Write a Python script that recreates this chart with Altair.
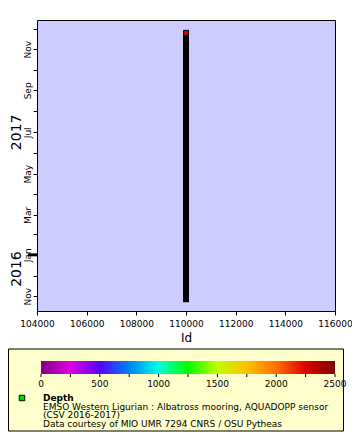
import altair as alt
import pandas as pd

# ---- data ----
bar_ids = [110000]
bar_start = ["2016-10-23"]
bar_end = ["2017-11-28"]
last_ids = [110000]
last_times = ["2017-11-25"]
year_labels = ["2017", "2016"]
year_label_dates = ["2017-07-01", "2016-12-11"]
year_tick_dates = ["2017-01-01"]
x_tick_values = [104000, 105000, 106000, 107000, 108000, 109000, 110000,
                 111000, 112000, 113000, 114000, 115000, 116000]
cb_tick_values = [0, 250, 500, 750, 1000, 1250, 1500, 1750, 2000, 2250, 2500]
cb_label_values = [0, 500, 1000, 1500, 2000, 2500]
cb_stop_offsets = [0.0, 0.1, 0.2, 0.3, 0.4, 0.5, 0.6, 0.7, 0.8, 0.9, 1.0]
cb_stop_colors = ["#800080", "#e000e0", "#5a00ff", "#0080ff", "#00ffe0", "#00ff00",
                  "#c0ff00", "#ffc000", "#ff7000", "#e00000", "#800000"]
legend_title = "Depth"
legend_lines = ["EMSO Western Ligurian : Albatross mooring, AQUADOPP sensor",
                "(CSV 2016-2017)",
                "Data courtesy of MIO UMR 7294 CNRS / OSU Pytheas"]

FONT = "DejaVu Sans"

bars = pd.DataFrame({"id": bar_ids, "start": bar_start, "end": bar_end})
last = pd.DataFrame({"id": last_ids, "t": last_times})
years = pd.DataFrame({"label": year_labels, "t": year_label_dates})
ytick = pd.DataFrame({"t": year_tick_dates})
one = pd.DataFrame({"a": [0]})
cb_rect = pd.DataFrame({"lo": [cb_tick_values[0]], "hi": [cb_tick_values[-1]]})
cb_ticks = pd.DataFrame({"v": cb_tick_values})
cb_labels = pd.DataFrame({"v": cb_label_values})

x_scale = alt.Scale(domain=[104000, 116000], nice=False, zero=False)
y_scale = alt.Scale(type="utc",
                    domain=[alt.DateTime(year=2016, month=10, date=10, utc=True),
                            alt.DateTime(year=2017, month=12, date=14, utc=True)],
                    nice=False)

x_axis = alt.Axis(values=x_tick_values,
                  labelExpr="datum.value % 2000 == 0 ? format(datum.value, 'd') : ''",
                  title="Id", titleFont=FONT, titleFontSize=12, titleFontWeight="normal",
                  titleColor="black", titlePadding=4,
                  labelFlush=False, labelOverlap=False, labelPadding=4, tickSize=4)
y_axis = alt.Axis(tickCount={"interval": "month", "step": 1},
                  labelExpr="utcmonth(datum.value) % 2 == 0 ? utcFormat(datum.value, '%b') : ''",
                  labelAngle=270, labelAlign="center", labelBaseline="alphabetic",
                  labelPadding=3, tickSize=4, labelFlush=False, labelOverlap=False,
                  title=None)

bar = alt.Chart(bars).mark_rule(color="black", strokeWidth=6).encode(
    x=alt.X("id:Q", scale=x_scale, axis=x_axis),
    y=alt.Y("end:T", scale=y_scale, axis=y_axis, title=None),
    y2="start:T",
)
last_pt = alt.Chart(last).mark_square(size=25, fill="#d00000", stroke="black",
                                      strokeWidth=1, opacity=1).encode(
    x="id:Q", y=alt.Y("t:T", title=None))
year_tick = alt.Chart(ytick).mark_rule(color="black", strokeWidth=3).encode(
    y=alt.Y("t:T", title=None), x=alt.value(-9), x2=alt.value(0))
year_text = alt.Chart(years).mark_text(angle=270, font=FONT, fontSize=14, color="black",
                                       align="center", baseline="alphabetic").encode(
    y=alt.Y("t:T", title=None), x=alt.value(-16), text="label:N")

legend_box = alt.Chart(one).mark_rect(fill="#ffffcc", stroke="black", strokeWidth=1).encode(
    x=alt.value(-28.5), x2=alt.value(306.5), y=alt.value(329), y2=alt.value(411))
green = alt.Chart(one).mark_square(size=30, fill="#00dd00", stroke="black",
                                   strokeWidth=1, opacity=1).encode(
    x=alt.value(-15), y=alt.value(378))
title_txt = alt.Chart(one).mark_text(font=FONT, fontSize=9, fontWeight="bold", color="black",
                                     align="left", baseline="alphabetic").encode(
    x=alt.value(6), y=alt.value(381), text=alt.value(legend_title))
line_layers = []
for txt, yy in zip(legend_lines, [389.5, 398, 406.5]):
    line_layers.append(
        alt.Chart(one).mark_text(font=FONT, fontSize=9, color="black",
                                 align="left", baseline="alphabetic").encode(
            x=alt.value(6), y=alt.value(yy), text=alt.value(txt)))

main = alt.layer(bar, last_pt, year_tick, year_text, legend_box, green, title_txt, *line_layers)

gradient = alt.Gradient(
    gradient="linear",
    stops=[alt.GradientStop(offset=o, color=c) for o, c in zip(cb_stop_offsets, cb_stop_colors)],
    x1=0, x2=1, y1=0, y2=0)
cb_scale = alt.Scale(domain=[cb_tick_values[0], cb_tick_values[-1]], range=[4, 298], nice=False)
cb_bar = alt.Chart(cb_rect).mark_rect(fill=gradient, strokeWidth=0).encode(
    x=alt.X("lo:Q", scale=cb_scale, axis=None), x2="hi:Q",
    y=alt.value(341), y2=alt.value(354))
cb_tk = alt.Chart(cb_ticks).mark_rule(color="black", strokeWidth=1).encode(
    x=alt.X("v:Q", axis=None), y=alt.value(354), y2=alt.value(357))
cb_lb = alt.Chart(cb_labels).mark_text(font=FONT, fontSize=9, color="black",
                                       align="center", baseline="alphabetic").encode(
    x=alt.X("v:Q", axis=None), y=alt.value(367), text="v:Q")
cbar = alt.layer(cb_bar, cb_tk, cb_lb)

chart = alt.layer(main, cbar).resolve_scale(x="independent").properties(
    width=298, height=291,
    autosize=alt.AutoSizeParams(type="none"),
    padding={"left": 29, "top": 12, "right": 17, "bottom": 121},
    background="white",
).configure_view(
    fill="#ccccff", stroke="black", strokeWidth=1
).configure_axis(
    domain=False, grid=False, tickColor="black", labelColor="black",
    labelFont=FONT, labelFontSize=9
)

chart.save("out.html", embed_options={"renderer": "svg", "actions": False})
